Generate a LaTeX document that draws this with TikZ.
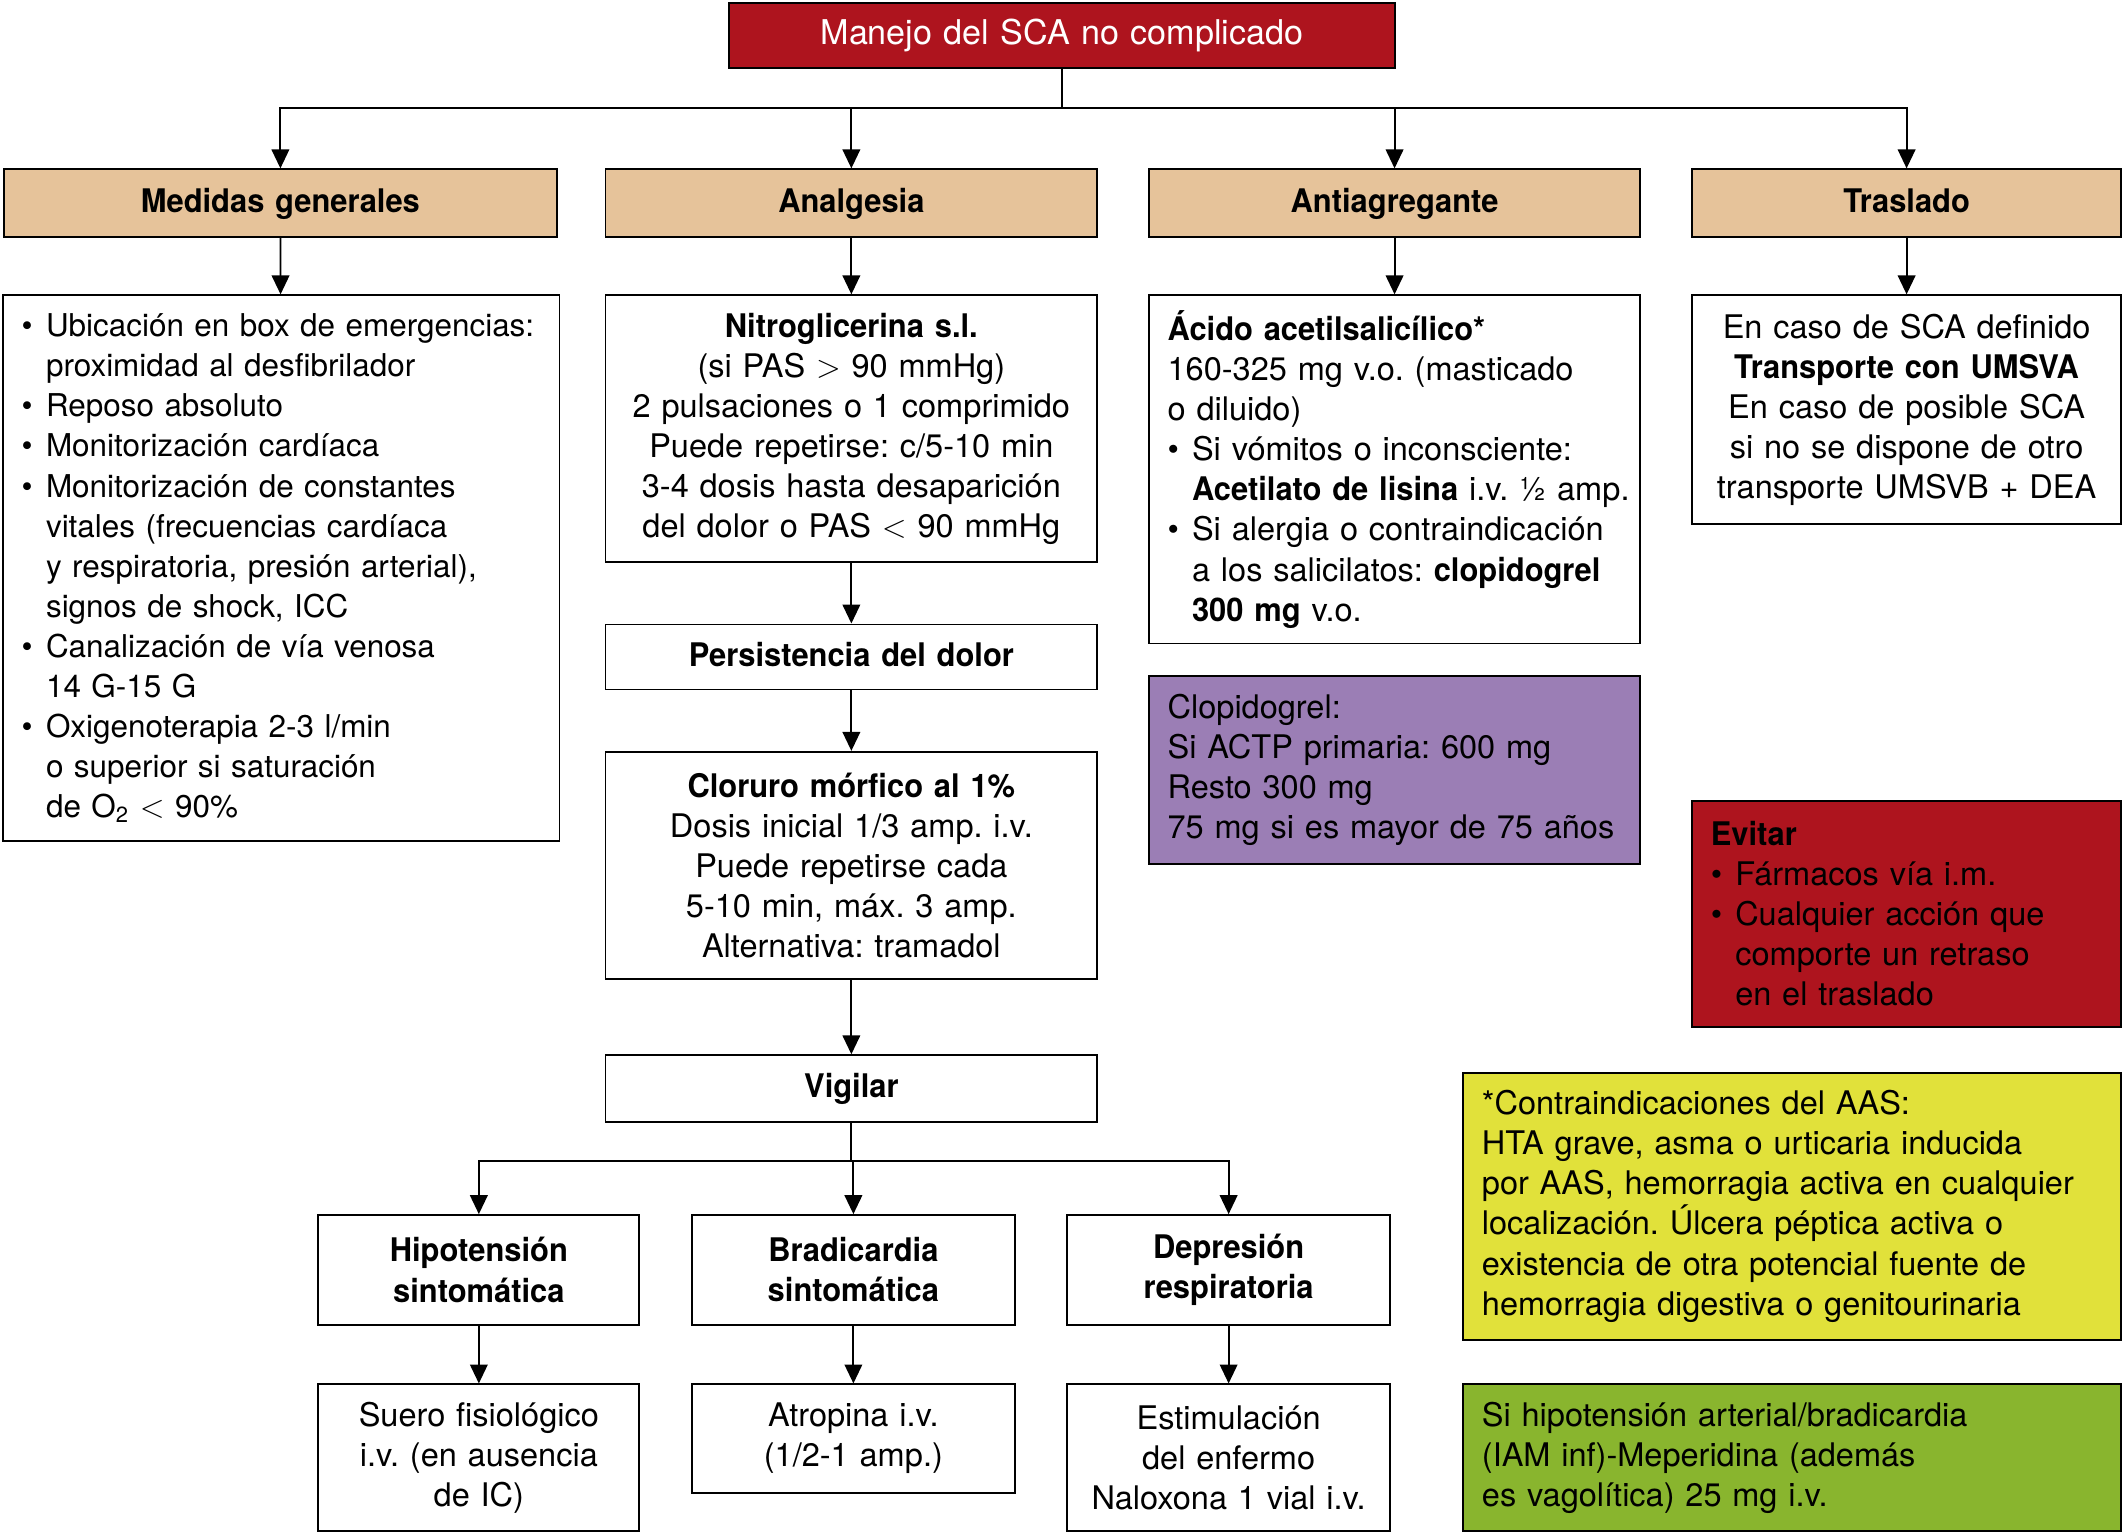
\documentclass[tikz,border=0pt]{standalone}
\usepackage{fontspec}
\setmainfont{TeX Gyre Heros}[BoldFeatures={FakeStretch=0.95}]
\usetikzlibrary{arrows.meta}

\definecolor{scared}{RGB}{174,20,30}
\definecolor{headtan}{RGB}{230,195,154}
\definecolor{clopiviolet}{RGB}{155,126,181}
\definecolor{contrayellow}{RGB}{225,225,58}
\definecolor{meperigreen}{RGB}{137,181,46}

\newcommand{\bulitem}{\makebox[9pt][l]{\textbullet}}
\newcommand{\bulgap}{\hspace*{9pt}}
\frenchspacing

\begin{document}
\begin{tikzpicture}[x=0.5pt, y=-0.5pt, line width=0.7pt,
  >={Triangle[length=7pt, width=6.5pt]},
  every node/.style={font=\fontsize{12}{14.8}\selectfont},
  box/.style={rectangle, draw, inner xsep=7pt, inner ysep=0pt, fill=white},
  one line/.style={text height=8.5pt, text depth=1.5pt},
  title/.style={box, one line, fill=scared, text=white, minimum height=24pt, text width=232pt, align=center, font=\fontsize{12.6}{14.8}\selectfont},
  head/.style={box, one line, fill=headtan, minimum height=25pt, align=center, font=\fontsize{12}{14.8}\selectfont\bfseries},
  step box/.style={box, align=center},
  list box/.style={box, align=left},
  note/.style={box, align=left}]
  \useasboundingbox (0,0) rectangle (1568,1131);

  \node[title] (top) at (784,26) {Manejo del SCA no complicado};

  \node[head, text width=190pt] (med) at (207,150) {Medidas generales};
  \node[head, text width=167.5pt] (ana) at (628.5,150) {Analgesia};
  \node[head, text width=167.5pt] (anti) at (1029.5,150) {Antiagregante};
  \node[head, text width=144.5pt] (tras) at (1407.5,150) {Traslado};

  \node[list box, text width=191.5pt, minimum height=201.5pt, font=\fontsize{11.6}{14.8}\selectfont] (medtxt) at (207.5,419.5) {%
    \mbox{\bulitem Ubicación en box de emergencias:}\\
    \bulgap proximidad al desfibrilador\\
    \bulitem Reposo absoluto\\
    \bulitem Monitorización cardíaca\\
    \bulitem Monitorización de constantes\\
    \bulgap vitales (frecuencias cardíaca\\
    \mbox{\bulgap y respiratoria, presión arterial),}\\
    \bulgap signos de shock, ICC\\
    \bulitem Canalización de vía venosa\\
    \bulgap 14 G-15 G\\
    \bulitem Oxigenoterapia 2-3 l/min\\
    \bulgap o superior si saturación\\
    \bulgap de O\textsubscript{2} $<$ 90\%};

  \node[step box, text width=167.5pt, minimum height=98.5pt] (nitro) at (628.5,316.5) {%
    \textbf{Nitroglicerina s.l.}\\
    (si PAS $>$ 90 mmHg)\\
    2 pulsaciones o 1 comprimido\\
    Puede repetirse: c/5-10 min\\
    3-4 dosis hasta desaparición\\
    del dolor o PAS $<$ 90 mmHg};
  \node[step box, one line, text width=167.5pt, minimum height=24pt] (persist) at (628.5,485) {\textbf{Persistencia del dolor}};
  \node[step box, text width=167.5pt, minimum height=84pt] (morf) at (628.5,639) {%
    \textbf{Cloruro mórfico al 1\%}\\
    Dosis inicial 1/3 amp. i.v.\\
    Puede repetirse cada\\
    5-10 min, máx. 3 amp.\\
    Alternativa: tramadol};
  \node[step box, one line, text width=167.5pt, minimum height=24.5pt] (vig) at (628.5,803.5) {\textbf{Vigilar}};

  \node[step box, text width=104.5pt, minimum height=40.5pt] (hipo) at (353.5,937.5) {\textbf{Hipotensión}\\\textbf{sintomática}};
  \node[step box, text width=105pt, minimum height=40.5pt] (brady) at (630,937.5) {\textbf{Bradicardia}\\\textbf{sintomática}};
  \node[step box, text width=105pt, minimum height=40.5pt] (depre) at (907,937.5) {\textbf{Depresión}\\\textbf{respiratoria}};

  \node[step box, text width=104.5pt, minimum height=54pt] (suero) at (353.5,1076) {Suero fisiológico\\i.v. (en ausencia\\de IC)};
  \node[step box, text width=105pt, minimum height=40pt] (atrop) at (630,1062) {Atropina i.v.\\(1/2-1 amp.)};
  \node[step box, text width=105pt, minimum height=54pt] (estim) at (907,1076) {Estimulación\\del enfermo\\Naloxona 1 vial i.v.};

  \node[list box, text width=167.5pt, minimum height=128.5pt] (aas) at (1029.5,346.5) {%
    \textbf{Ácido acetilsalicílico*}\\
    160-325 mg v.o. (masticado\\
    o diluido)\\
    \bulitem Si vómitos o inconsciente:\\
    \mbox{\bulgap \textbf{Acetilato de lisina} i.v. ½ amp.}\\
    \bulitem Si alergia o contraindicación\\
    \mbox{\bulgap a los salicilatos: \textbf{clopidogrel}}\\
    \bulgap \textbf{300 mg} v.o.};
  \node[note, fill=clopiviolet, text width=167.5pt, minimum height=69.5pt] (clopi) at (1029.5,568.5) {%
    Clopidogrel:\\
    Si ACTP primaria: 600 mg\\
    Resto 300 mg\\
    \mbox{75 mg si es mayor de 75 años}};

  \node[step box, text width=144.5pt, minimum height=84.5pt] (trastxt) at (1407.5,302.5) {%
    En caso de SCA definido\\
    \textbf{Transporte con UMSVA}\\
    En caso de posible SCA\\
    si no se dispone de otro\\
    transporte UMSVB + DEA};
  \node[note, fill=scared, text width=144.5pt, minimum height=83.5pt] (evitar) at (1407.5,674.5) {%
    \textbf{Evitar}\\
    \bulitem Fármacos vía i.m.\\
    \bulitem Cualquier acción que\\
    \bulgap comporte un retraso\\
    \bulgap en el traslado};
  \node[note, fill=contrayellow, text width=229pt, minimum height=98.5pt] (contra) at (1323,890.5) {%
    *Contraindicaciones del AAS:\\
    HTA grave, asma o urticaria inducida\\
    \mbox{por AAS, hemorragia activa en cualquier}\\
    localización. Úlcera péptica activa o\\
    existencia de otra potencial fuente de\\
    hemorragia digestiva o genitourinaria};
  \node[note, fill=meperigreen, text width=229pt, minimum height=54pt] (meper) at (1323,1076) {%
    Si hipotensión arterial/bradicardia\\
    (IAM inf)-Meperidina (además\\
    es vagolítica) 25 mg i.v.};

  \coordinate (split) at (784,80);
  \draw (top.south) -- (split);
  \foreach \n in {med,ana,anti,tras}
    \draw[->] (split) -| (\n.north);

  \draw[->] (med) -- (medtxt);
  \draw[->] (ana) -- (nitro);
  \draw[->] (anti) -- (aas);
  \draw[->] (tras) -- (trastxt);
  \draw[->] (nitro) -- (persist);
  \draw[->] (persist) -- (morf);
  \draw[->] (morf) -- (vig);

  \coordinate (vsplit) at (628.5,857);
  \draw (vig.south) -- (vsplit);
  \foreach \n in {hipo,brady,depre}
    \draw[->] (vsplit) -| (\n.north);

  \draw[->] (hipo) -- (suero);
  \draw[->] (brady) -- (atrop);
  \draw[->] (depre) -- (estim);

\end{tikzpicture}
\end{document}
